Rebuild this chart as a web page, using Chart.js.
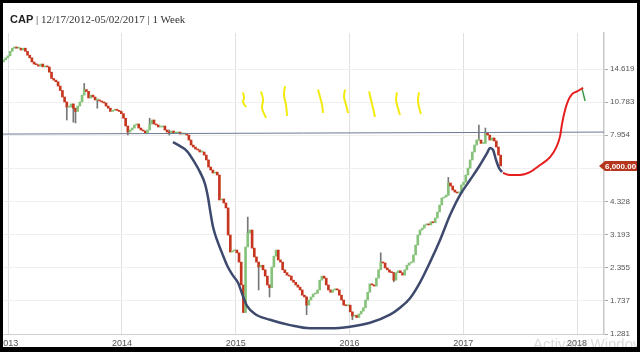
<!DOCTYPE html>
<html>
<head>
<meta charset="utf-8">
<script src="https://cdn.jsdelivr.net/npm/chart.js@4.4.1/dist/chart.umd.min.js"></script>
<style>
html,body{margin:0;padding:0;background:#000;width:640px;height:352px;overflow:hidden}
#frame{position:absolute;left:3px;top:3px;width:634px;height:344px;background:#fff;overflow:hidden}
#title{position:absolute;left:7px;top:10px;line-height:12px;font-size:11px;font-family:"Liberation Serif",serif;color:#333;white-space:nowrap}
#title b{font-family:"Liberation Sans",Arial,sans-serif;color:#222}
#chart{position:absolute;left:0;top:0}
#wm{position:absolute;left:530px;top:332px;font:15px "Liberation Sans",sans-serif;color:rgba(150,150,150,0.35);white-space:nowrap}
</style>
</head>
<body>
<div id="frame">
  <canvas id="chart" width="634" height="344"></canvas>
  <div id="title"><b>CAP</b> | 12/17/2012-05/02/2017 | 1 Week</div>
  <div id="wm">Activate Windows</div>
</div>
<script>
// weekly closes, first week starts 12/17/2012
var startDate = Date.UTC(2012, 11, 17);
var closes = [
  15.9, 16.2, 16.5, 17.2, 17.7, 17.9, 17.7, 17.7, 17.4, 17.7,
  17.2, 16.6, 16.2, 15.6, 15.3, 15.2, 15.0, 15.3, 14.9, 15.0,
  14.9, 14.2, 13.4, 13.2, 13.0, 12.5, 12.0, 11.3, 10.8, 10.3,
  10.3, 10.6, 10.2, 9.9, 10.4, 10.8, 11.5, 12.1, 11.9, 11.2,
  11.5, 11.3, 11.0, 11.0, 10.9, 10.8, 10.7, 10.4, 10.2, 9.9,
  10.0, 10.1, 10.0, 9.9, 9.7, 9.3, 8.66, 8.19, 8.35, 8.5,
  8.74, 8.82, 8.5, 8.35, 8.27, 8.12, 8.35, 8.82, 9.15, 8.82,
  8.74, 8.58, 8.58, 8.66, 8.35, 8.19, 8.12, 8.27, 8.12, 8.12,
  8.19, 8.04, 8.04, 8.04, 7.97, 7.61, 7.27, 7.14, 7.01, 6.95,
  6.82, 6.82, 6.63, 6.34, 5.94, 5.78, 5.62, 5.67, 5.52, 4.39,
  4.43, 4.27, 4.08, 3.18, 2.72, 2.75, 2.77, 2.70, 2.48, 2.01,
  1.56, 2.85, 3.24, 3.33, 2.82, 2.60, 2.48, 2.37, 2.41, 2.31,
  2.18, 2.01, 1.96, 2.37, 2.62, 2.77, 2.53, 2.48, 2.31, 2.25,
  2.20, 2.18, 2.10, 2.06, 2.01, 1.97, 1.92, 1.83, 1.80, 1.67,
  1.75, 1.80, 1.85, 1.86, 1.92, 2.10, 2.18, 2.14, 2.01, 1.92,
  1.88, 1.92, 1.94, 1.92, 1.83, 1.75, 1.67, 1.66, 1.67, 1.57,
  1.51, 1.52, 1.49, 1.54, 1.58, 1.63, 1.75, 1.88, 2.03, 2.01,
  1.99, 2.14, 2.31, 2.48, 2.46, 2.35, 2.31, 2.26, 2.25, 2.10,
  2.25, 2.29, 2.25, 2.20, 2.31, 2.41, 2.46, 2.48, 2.65, 2.90,
  3.18, 3.33, 3.39, 3.49, 3.52, 3.49, 3.59, 3.56, 3.72, 3.93,
  4.19, 4.47, 4.51, 4.59, 5.13, 4.99, 4.81, 4.72, 4.68, 4.72,
  5.04, 5.17, 5.52, 5.88, 6.34, 6.82, 7.27, 7.61, 7.61, 7.38,
  7.38, 8.12, 7.97, 7.61, 7.76, 7.55, 7.14, 6.63, 6.00
];
var firstOpen = 15.6;

// the longer wicks that stand out
var wickWeek = [29, 32, 33, 37, 43, 57, 67, 76, 112, 117, 122, 139, 160, 173, 179, 204, 218, 221];
var wickLow  = [9.15, 8.97, 8.9, 11.9, 10.2, 7.97, 8.82, 7.97, 3.24, 1.92, 1.80, 1.53, 1.46, 2.48, 2.07, 4.59, 7.61, 7.97];
var wickHigh = [10.3, 10.6, 10.2, 12.8, 11.0, 8.35, 9.3, 8.35, 3.75, 2.41, 2.01, 1.80, 1.54, 2.70, 2.25, 5.40, 8.74, 8.50];

var yTicks = [1.281, 1.737, 2.355, 3.193, 4.328, 5.869, 7.954, 10.783, 14.619];
var yearTicks = [2013, 2014, 2015, 2016, 2017, 2018];
var lastPrice = 6.0;
var badgeText = '6,000.00';

// hand drawn notes, [year, price]
var resistLine = [[2012.954, 8.04], [2018.237, 8.19]];
var cupLine = [
  [2014.448, 7.47], [2014.510, 7.20], [2014.571, 6.88], [2014.642, 6.16], [2014.686, 5.67],
  [2014.730, 5.08], [2014.756, 4.50], [2014.774, 4.00], [2014.800, 3.43], [2014.835, 3.04],
  [2014.879, 2.70], [2014.923, 2.41], [2014.967, 2.22], [2015.020, 2.05], [2015.064, 1.81],
  [2015.099, 1.66], [2015.169, 1.54], [2015.301, 1.46], [2015.477, 1.39], [2015.653, 1.35],
  [2015.829, 1.35], [2016.004, 1.37], [2016.180, 1.42], [2016.356, 1.53], [2016.444, 1.63],
  [2016.532, 1.78], [2016.620, 2.06], [2016.708, 2.48], [2016.796, 3.04], [2016.884, 3.82],
  [2016.971, 4.59], [2017.059, 5.27], [2017.147, 6.05], [2017.209, 6.75], [2017.235, 7.08],
  [2017.262, 6.95], [2017.288, 6.34], [2017.314, 5.89], [2017.341, 5.67]
];
var arrowLine = [
  [2017.349, 5.62], [2017.410, 5.52], [2017.498, 5.52], [2017.586, 5.67], [2017.675, 6.05],
  [2017.763, 6.51], [2017.815, 7.08], [2017.851, 7.89], [2017.868, 8.82], [2017.894, 10.0],
  [2017.921, 10.9], [2017.956, 11.6], [2018.000, 11.9], [2018.053, 12.3]
];
var greenTick = [[2018.044, 12.2], [2018.071, 10.9]];
var yellowMarks = [
  [[2015.064, 11.8], [2015.073, 11.2], [2015.064, 10.8], [2015.090, 10.3]],
  [[2015.222, 11.9], [2015.240, 11.0], [2015.231, 10.2], [2015.266, 9.32]],
  [[2015.433, 12.5], [2015.424, 11.5], [2015.442, 10.5], [2015.451, 9.49]],
  [[2015.723, 12.1], [2015.741, 11.3], [2015.759, 10.5], [2015.767, 9.76]],
  [[2015.961, 12.1], [2015.952, 11.3], [2015.970, 10.5], [2015.987, 9.76]],
  [[2016.172, 11.9], [2016.189, 11.0], [2016.207, 10.2], [2016.224, 9.40]],
  [[2016.417, 11.8], [2016.409, 11.0], [2016.426, 10.2], [2016.444, 9.58]],
  [[2016.611, 11.8], [2016.602, 11.0], [2016.611, 10.3], [2016.628, 9.67]]
];

function weekYear(i) {
  var t = startDate + i * 7 * 864e5;
  return 2013 + (t - Date.UTC(2013, 0, 1)) / (365.25 * 864e5);
}
function pts(list) {
  return list.map(function (p) { return {x: p[0], y: p[1]}; });
}

var bodies = [], bodyColors = [];
for (var i = 0; i < closes.length; i++) {
  var o = i === 0 ? firstOpen : closes[i - 1];
  bodies.push({x: weekYear(i), y: [o, closes[i]]});
  bodyColors.push(closes[i] >= o ? '#86c27a' : '#c6361f');
}
var wicks = [];
for (var k = 0; k < wickWeek.length; k++) {
  wicks.push({x: weekYear(wickWeek[k]), y: [wickLow[k], wickHigh[k]]});
}

var datasets = [
  {type: 'line', data: pts(cupLine), borderColor: '#3e4a6d', borderWidth: 2.5, pointRadius: 0, cubicInterpolationMode: 'monotone', order: 0},
  {type: 'line', data: pts(arrowLine), borderColor: '#e61e1e', borderWidth: 2, pointRadius: 0, cubicInterpolationMode: 'monotone', order: 0},
  {type: 'line', data: pts(greenTick), borderColor: '#3a9a45', borderWidth: 1.5, pointRadius: 0, order: 0},
  {type: 'line', data: pts(resistLine), borderColor: '#6c7a94', borderWidth: 1, pointRadius: 0, order: 1}
];
yellowMarks.forEach(function (m) {
  datasets.push({type: 'line', data: pts(m), borderColor: '#f3ea10', borderWidth: 2, pointRadius: 0, tension: 0.4, order: 0});
});
datasets.push({type: 'bar', data: bodies, backgroundColor: bodyColors, barThickness: 2, minBarLength: 1, grouped: false, order: 2});
datasets.push({type: 'bar', data: wicks, backgroundColor: '#777', barThickness: 1, grouped: false, order: 3});

var badge = {
  id: 'badge',
  afterDraw: function (chart) {
    var ctx = chart.ctx, a = chart.chartArea;
    var y = chart.scales.y.getPixelForValue(lastPrice);
    var x0 = a.right - 5;
    ctx.save();
    ctx.fillStyle = '#b5361d';
    ctx.beginPath();
    ctx.moveTo(x0, y);
    ctx.lineTo(x0 + 6, y - 5);
    ctx.lineTo(x0 + 40, y - 5);
    ctx.lineTo(x0 + 40, y + 5);
    ctx.lineTo(x0 + 6, y + 5);
    ctx.closePath();
    ctx.fill();
    ctx.fillStyle = '#fff';
    ctx.font = 'bold 8px "Liberation Sans", sans-serif';
    ctx.textBaseline = 'middle';
    ctx.fillText(badgeText, x0 + 6, y + 0.5);
    ctx.restore();
  }
};

new Chart(document.getElementById('chart'), {
  type: 'bar',
  data: {datasets: datasets},
  options: {
    responsive: false,
    animation: false,
    layout: {padding: {top: 30, left: 0, right: 0, bottom: 0}},
    plugins: {legend: {display: false}, tooltip: {enabled: false}},
    scales: {
      x: {
        type: 'linear', min: 2012.954, max: 2018.237, offset: false,
        grid: {color: '#e0e0e0', drawTicks: false, offset: false},
        border: {color: '#d0d0d0'},
        ticks: {padding: 4, color: '#555', maxRotation: 0, autoSkip: false,
                font: {size: 9, family: 'Liberation Sans'},
                callback: function (v) { return String(v); }},
        afterBuildTicks: function (s) { s.ticks = yearTicks.map(function (v) { return {value: v}; }); },
        afterFit: function (s) { s.height = 13; s.paddingLeft = 0; s.paddingRight = 0; }
      },
      y: {
        type: 'logarithmic', position: 'right', min: 1.281, max: 20.35,
        grid: {color: '#efefef', tickLength: 4, tickColor: '#aaa'},
        border: {color: '#c8c8c8', width: 1.5},
        ticks: {padding: 2, color: '#555', font: {size: 8, family: 'Liberation Sans'},
                callback: function (v) { return Number(v).toFixed(3); }},
        afterBuildTicks: function (s) { s.ticks = yTicks.map(function (v) { return {value: v}; }); },
        afterFit: function (s) { s.width = 33; s.paddingTop = 0; s.paddingBottom = 0; }
      }
    }
  },
  plugins: [badge]
});
</script>
</body>
</html>
